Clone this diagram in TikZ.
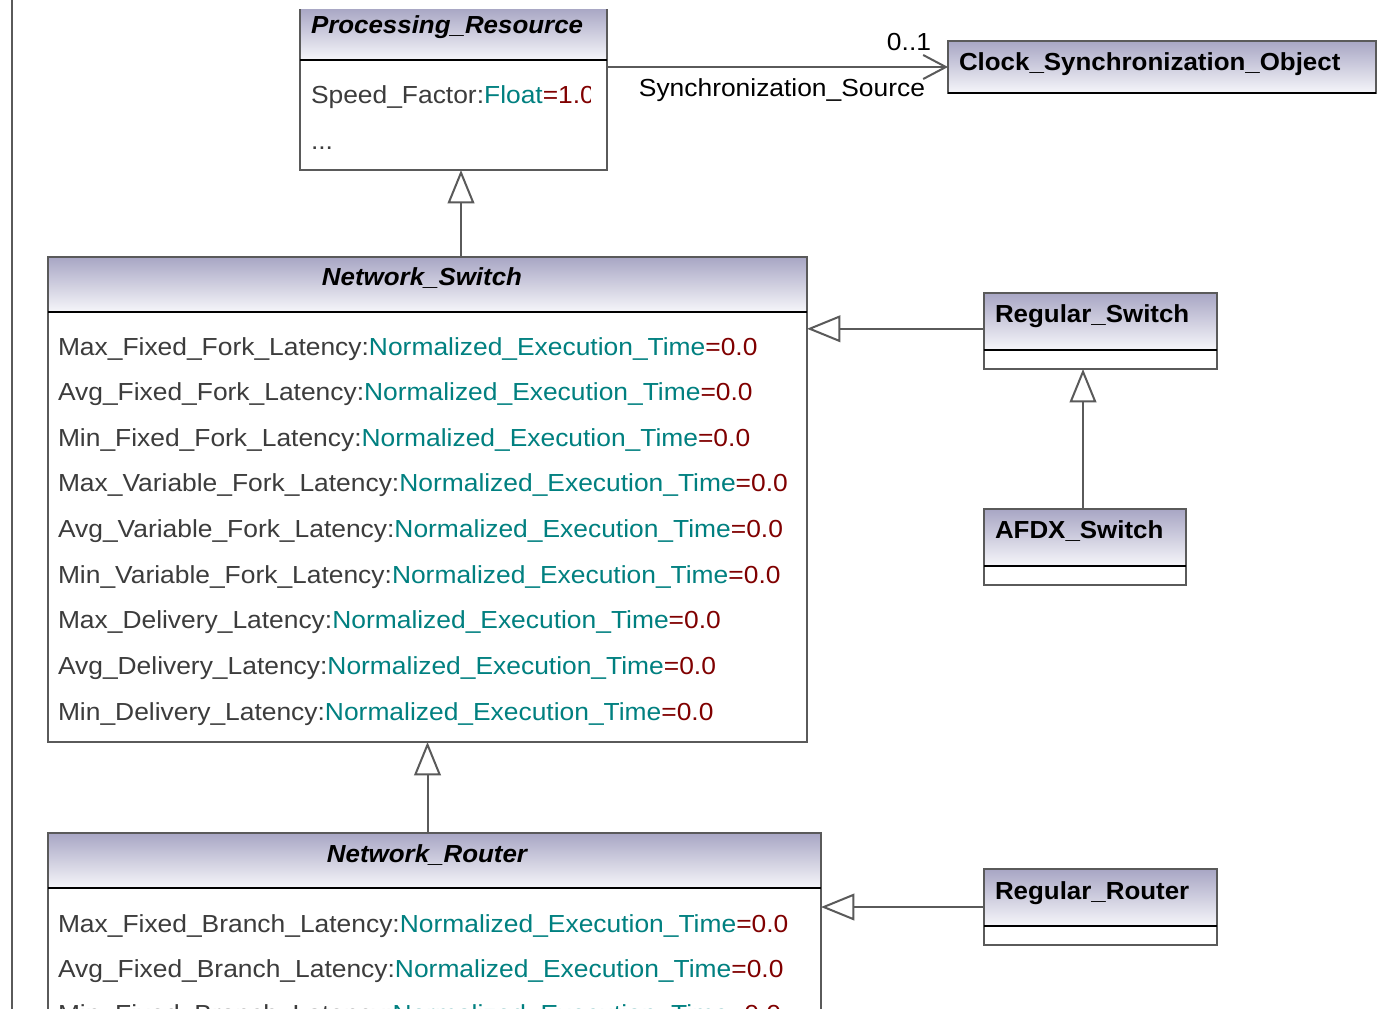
\documentclass[tikz,border=0pt]{standalone}
\usepackage{fontspec}
\setmainfont{Liberation Sans}[
  UprightFeatures={FakeStretch=1.07},
  BoldFeatures={FakeStretch=1.05},
  BoldItalicFeatures={FakeStretch=1.05}]
\usetikzlibrary{arrows.meta}

\definecolor{edgegray}{RGB}{90,90,90}
\definecolor{hdrtop}{RGB}{168,166,196}
\definecolor{hdrbot}{RGB}{246,246,250}
\definecolor{attrgray}{RGB}{60,60,60}
\definecolor{typecol}{RGB}{0,128,128}
\definecolor{valcol}{RGB}{128,0,0}

% one drawing unit
\newdimen\upx \upx=0.75pt

\newcommand\ty[1]{\textcolor{typecol}{#1}}
\newcommand\dv[1]{\textcolor{valcol}{#1}}

\tikzset{
  hdr/.style={top color=hdrtop, bottom color=hdrbot, draw=none,
    inner sep=0, outer sep=0, anchor=north west},
  cls/.style={draw=edgegray, line width=2\upx, fill=none,
    inner sep=0, outer sep=0, anchor=north west},
  sepline/.style={draw=black, line width=2.6\upx},
  edge/.style={draw=edgegray, line width=2\upx},
  inh/.style={edge, -{Triangle[open, fill=white, length=25pt, width=20pt]}},
  assoc/.style={edge, -{Straight Barb[length=17pt, width=18pt]}},
  txt/.style={inner sep=0, outer sep=0, font=\fontsize{18.5}{22}\selectfont},
  ttl/.style={txt, text=black, font=\fontsize{18.5}{22}\selectfont\bfseries},
  attr/.style={txt, anchor=base west, text=attrgray},
  lbl/.style={txt, text=black}
}

% class frame: name, x, y, width, height, header height
\newcommand\classframe[6]{%
  \node[hdr, minimum width=#4\upx, minimum height=#6\upx] (#1-head) at (#2,#3) {};
  \node[cls, minimum width=#4\upx, minimum height=#5\upx] (#1) at (#2,#3) {};
  \draw[sepline] (#1-head.south west) -- (#1-head.south east);
}

\begin{document}
\begin{tikzpicture}[x=0.75pt, y=-0.75pt]
\clip (0,0) rectangle (1385,1008);
\fill[white] (0,0) rectangle (1385,1008);

% frame edge on the left
\draw[edge] (12,-5) -- (12,1015);

% ---- Processing_Resource
\begin{scope}
  \clip (290,9.5) rectangle (620,180);
  \classframe{pr}{300}{8}{307}{162}{52}
\end{scope}
\node[ttl, anchor=base west] (pr-t) at (311,33) {\itshape Processing\_Resource};
\begin{scope}
  \clip (300,60) rectangle (590,170);
  \node[attr] (pr-a1) at (311,103) {Speed\_Factor:\ty{Float}\dv{=1.0}};
\end{scope}
\node[attr] (pr-a2) at (311,149) {...};

% ---- Clock_Synchronization_Object
\classframe{clk}{948}{41}{428}{52}{52}
\node[ttl, anchor=base west] (clk-t) at (959,70) {Clock\_Synchronization\_Object};

% ---- Network_Switch
\classframe{ns}{48}{257}{759}{485}{55}
\node[ttl, anchor=base] (ns-t) at (422,285) {\itshape Network\_Switch};
\foreach \nm [count=\i] in {Max\_Fixed\_Fork\_Latency, Avg\_Fixed\_Fork\_Latency,
    Min\_Fixed\_Fork\_Latency, Max\_Variable\_Fork\_Latency,
    Avg\_Variable\_Fork\_Latency, Min\_Variable\_Fork\_Latency,
    Max\_Delivery\_Latency, Avg\_Delivery\_Latency, Min\_Delivery\_Latency}
  \node[attr] (ns-a\i) at (58,{355+(\i-1)*45.625})
    {\nm:\ty{Normalized\_Execution\_Time}\dv{=0.0}};

% ---- Regular_Switch and AFDX_Switch
\classframe{rs}{984}{293}{233}{76}{57}
\node[ttl, anchor=base west] (rs-t) at (995,322) {Regular\_Switch};
\classframe{afdx}{984}{509}{202}{76}{57}
\node[ttl, anchor=base west] (afdx-t) at (995,538) {AFDX\_Switch};

% ---- Network_Router
\classframe{nr}{48}{833}{773}{220}{55}
\node[ttl, anchor=base] (nr-t) at (427,862) {\itshape Network\_Router};
\foreach \nm [count=\i] in {Max\_Fixed\_Branch\_Latency, Avg\_Fixed\_Branch\_Latency,
    Min\_Fixed\_Branch\_Latency}
  \node[attr] (nr-a\i) at (58,{932+(\i-1)*45})
    {\nm:\ty{Normalized\_Execution\_Time}\dv{=0.0}};

% ---- Regular_Router
\classframe{rr}{984}{869}{233}{76}{57}
\node[ttl, anchor=base west] (rr-t) at (995,899) {Regular\_Router};

% ---- generalisations
\draw[inh] ([xshift=7.5\upx]pr.south |- ns.north) -- ([xshift=7.5\upx]pr.south);
\draw[inh] ([yshift=2.25\upx]rs.west) -- ([yshift=2.25\upx]rs.west -| ns.east);
\draw[inh] (afdx.north -| 1083,0) -- (rs.south -| 1083,0);
\draw[inh] (ns.south |- nr.north) -- (ns.south);
\draw[inh] (rr.west) -- (rr.west -| nr.east);

% ---- association
\draw[assoc] (clk.west -| pr.east) -- (clk.west);
\node[lbl, anchor=base east] (mult) at ([xshift=-17\upx, yshift=17\upx]clk.west) {0..1};
\node[lbl, anchor=base east] (role) at ([xshift=-23\upx, yshift=-29\upx]clk.west) {Synchronization\_Source};
\end{tikzpicture}
\end{document}
